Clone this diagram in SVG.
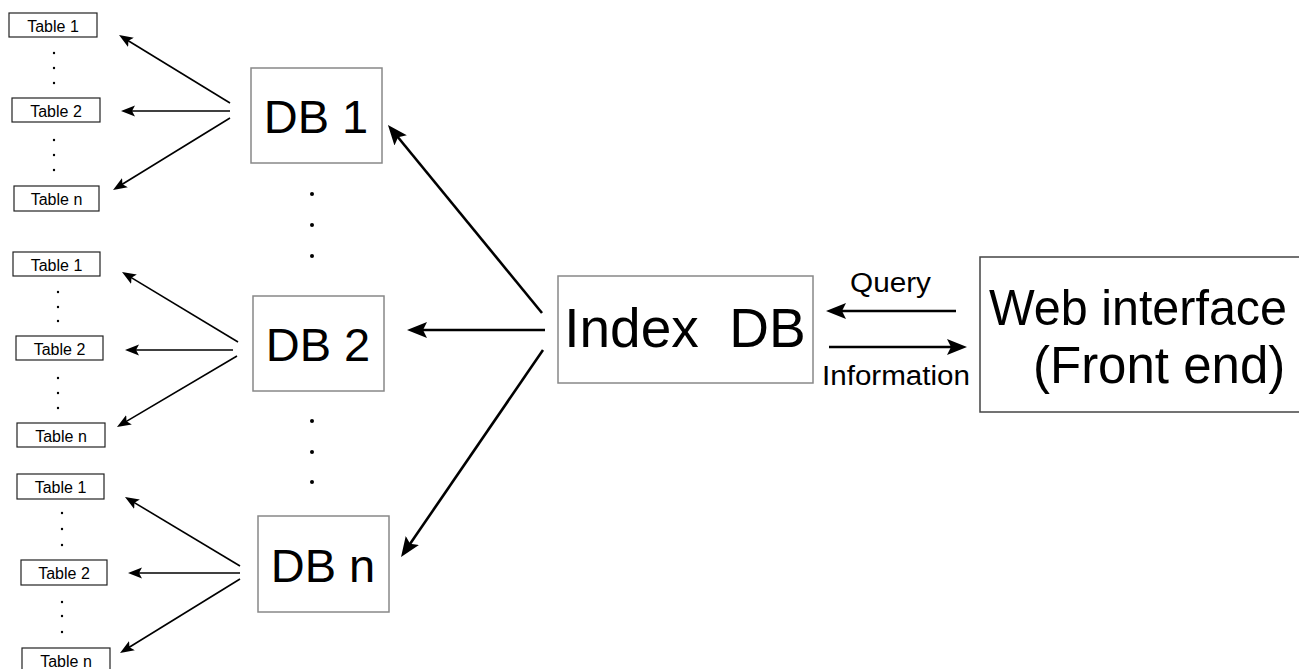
<svg xmlns="http://www.w3.org/2000/svg" width="1299" height="669" viewBox="0 0 1299 669">
  <style>
    text { font-family: "Liberation Sans", Arial, sans-serif; fill: #000; }
    .tbl rect { fill: #fff; stroke: #222; stroke-width: 1.2; }
    .tbl text { font-size: 16px; text-anchor: middle; }
    .db rect { fill: #fff; stroke: #888; stroke-width: 1.5; }
    .db text { font-size: 47px; text-anchor: middle; }
    .dot { fill: #000; }
    .thin { stroke: #000; stroke-width: 1.6; fill: none; marker-end: url(#headSmall); }
    .thick { stroke: #000; stroke-width: 2.6; fill: none; marker-end: url(#headBig); }
    .lbl { font-size: 27px; }
  </style>
  <defs>
    <marker id="headBig" markerUnits="userSpaceOnUse" markerWidth="22" markerHeight="18" refX="10" refY="8" orient="auto">
      <path d="M0,0 L20,8 L0,16 L4,8 z" fill="#000"/>
    </marker>
    <marker id="headSmall" markerUnits="userSpaceOnUse" markerWidth="16" markerHeight="12" refX="7" refY="5.5" orient="auto">
      <path d="M0,0 L14,5.5 L0,11 L3,5.5 z" fill="#000"/>
    </marker>
  </defs>

  <rect width="1299" height="669" fill="#fff"/>

  <!-- table lists of each database -->
  <g id="tables-db1" class="tbl">
    <rect x="9" y="13" width="88" height="24"/><text x="53" y="32">Table 1</text>
    <rect x="12" y="98" width="88" height="24"/><text x="56" y="117">Table 2</text>
    <rect x="14" y="186" width="85" height="25"/><text x="56.5" y="205">Table n</text>
    <circle class="dot" cx="54" cy="53" r="1.2"/><circle class="dot" cx="54" cy="68" r="1.2"/><circle class="dot" cx="54" cy="83" r="1.2"/>
    <circle class="dot" cx="54" cy="140" r="1.2"/><circle class="dot" cx="54" cy="155" r="1.2"/><circle class="dot" cx="54" cy="170" r="1.2"/>
  </g>
  <g id="tables-db2" class="tbl">
    <rect x="13" y="252" width="87" height="24"/><text x="56.5" y="271">Table 1</text>
    <rect x="16" y="336" width="87" height="24"/><text x="59.5" y="355">Table 2</text>
    <rect x="17" y="423" width="88" height="24"/><text x="61" y="442">Table n</text>
    <circle class="dot" cx="58" cy="292" r="1.2"/><circle class="dot" cx="58" cy="307" r="1.2"/><circle class="dot" cx="58" cy="321" r="1.2"/>
    <circle class="dot" cx="58" cy="378" r="1.2"/><circle class="dot" cx="58" cy="393" r="1.2"/><circle class="dot" cx="58" cy="408" r="1.2"/>
  </g>
  <g id="tables-dbn" class="tbl">
    <rect x="17" y="474" width="87" height="25"/><text x="60.5" y="493">Table 1</text>
    <rect x="21" y="560" width="86" height="25"/><text x="64" y="579">Table 2</text>
    <rect x="22" y="648" width="88" height="24"/><text x="66" y="667">Table n</text>
    <circle class="dot" cx="62" cy="513" r="1.2"/><circle class="dot" cx="62" cy="529" r="1.2"/><circle class="dot" cx="62" cy="545" r="1.2"/>
    <circle class="dot" cx="62" cy="602" r="1.2"/><circle class="dot" cx="62" cy="616" r="1.2"/><circle class="dot" cx="62" cy="632" r="1.2"/>
  </g>

  <!-- databases -->
  <g id="db1" class="db">
    <rect x="251" y="68" width="131" height="95"/>
    <text x="316" y="133">DB 1</text>
  </g>
  <g id="db2" class="db">
    <rect x="253" y="296" width="131" height="95"/>
    <text x="318" y="361">DB 2</text>
  </g>
  <g id="dbn" class="db">
    <rect x="258" y="516" width="131" height="96"/>
    <text x="323" y="582">DB n</text>
  </g>
  <g id="db-ellipsis">
    <circle class="dot" cx="312" cy="194" r="2"/><circle class="dot" cx="312" cy="225" r="2"/><circle class="dot" cx="312" cy="256" r="2"/>
    <circle class="dot" cx="312" cy="421" r="2"/><circle class="dot" cx="312" cy="452" r="2"/><circle class="dot" cx="312" cy="482" r="2"/>
  </g>

  <g id="index-db" class="db">
    <rect x="558" y="276" width="255" height="107"/>
    <text x="685" y="347" style="font-size:55px; white-space:pre">Index  DB</text>
  </g>

  <g id="web-interface">
    <rect x="980" y="257" width="340" height="155" fill="#fff" stroke="#444" stroke-width="1.5"/>
    <text x="989" y="325" font-size="50" textLength="298" lengthAdjust="spacingAndGlyphs">Web interface</text>
    <text x="1033" y="383" font-size="51">(Front end)</text>
  </g>

  <!-- connectors -->
  <g id="connectors">
    <line class="thin" x1="230" y1="103" x2="125" y2="38.7"/>
    <line class="thin" x1="230" y1="111" x2="128" y2="111"/>
    <line class="thin" x1="230" y1="118" x2="119" y2="186.3"/>

    <line class="thin" x1="238" y1="342" x2="128" y2="275.6"/>
    <line class="thin" x1="233" y1="350" x2="132" y2="350"/>
    <line class="thin" x1="237" y1="356" x2="123" y2="423.4"/>

    <line class="thin" x1="240" y1="566" x2="131" y2="500.6"/>
    <line class="thin" x1="240" y1="573" x2="135" y2="573"/>
    <line class="thin" x1="240" y1="579" x2="126" y2="649.3"/>

    <line class="thick" x1="542" y1="313" x2="394.3" y2="132.7"/>
    <line class="thick" x1="545" y1="330" x2="417" y2="330"/>
    <line class="thick" x1="543" y1="350" x2="406.7" y2="548.8"/>

    <line class="thick" x1="956" y1="311" x2="836" y2="311"/>
    <line class="thick" x1="829" y1="347" x2="957" y2="347"/>
    <text class="lbl" x="850" y="292" textLength="81" lengthAdjust="spacingAndGlyphs">Query</text>
    <text class="lbl" x="822" y="385" textLength="148" lengthAdjust="spacingAndGlyphs">Information</text>
  </g>
</svg>
